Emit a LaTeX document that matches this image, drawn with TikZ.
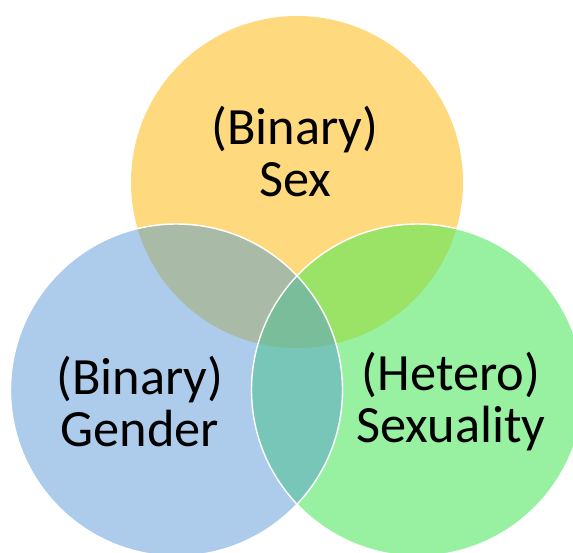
\documentclass[tikz,border=0pt]{standalone}
\usepackage{fontspec}
\setmainfont{Carlito}
\usetikzlibrary{positioning}

\definecolor{sexcol}{HTML}{FFD97E}
\definecolor{gendercol}{HTML}{ADCBEA}
\definecolor{hetcol}{HTML}{97F1A1}
\definecolor{sexgender}{HTML}{A9BBA6}
\definecolor{sexhet}{HTML}{9BE366}
\definecolor{genderhet}{HTML}{78C6B8}
\definecolor{allthree}{HTML}{79BD9B}

\begin{document}
\begin{tikzpicture}[%
        x=0.02cm, y=-0.02cm,
        rim/.style={%
          draw=white,
          line width=0.8pt
        },
        label/.style={%
          align=center,
          font=\fontsize{29.8}{29.6}\selectfont,
          text=black
        }
      ]
      \useasboundingbox (0,0) rectangle (573,552);
      \clip (0,0) rectangle (573,552);
      \coordinate (sex) at (297,182);
      \coordinate (gender) at (176.5,390);
      \coordinate (het) at (417.5,390);
      \def\rad{166}
      % the three circles
      \fill[sexcol] (sex) circle (\rad);
      \fill[gendercol] (gender) circle (\rad);
      \fill[hetcol] (het) circle (\rad);
      % overlaps
      \begin{scope}
        \clip (sex) circle (\rad);
        \fill[sexgender] (gender) circle (\rad);
        \fill[sexhet] (het) circle (\rad);
      \end{scope}
      \begin{scope}
        \clip (gender) circle (\rad);
        \fill[genderhet] (het) circle (\rad);
        \clip (het) circle (\rad);
        \fill[allthree] (sex) circle (\rad);
      \end{scope}
      \draw[rim] (het) circle (\rad);
      \draw[rim] (gender) circle (\rad);
      % texts
      \node[label] (sexlabel) at (295,152) {(Binary)\\Sex};
      \node[label] (genderlabel) at (140,402) {(Binary)\\Gender};
      \node[label] (hetlabel) at (451,402) {(Hetero)\\Sexuality};
    \end{tikzpicture}
\end{document}
